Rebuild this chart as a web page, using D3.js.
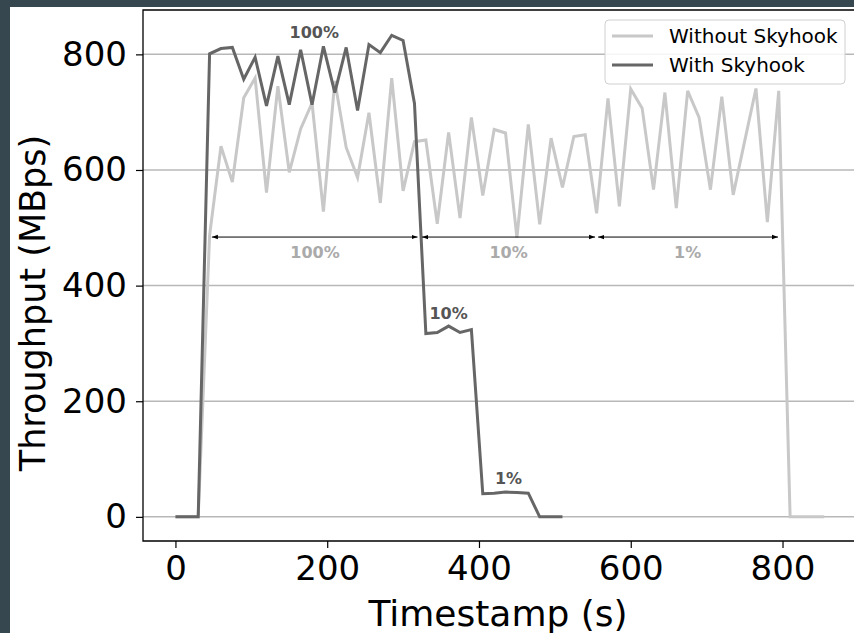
<!DOCTYPE html>
<html>
<head>
<meta charset="utf-8">
<script src="https://cdn.jsdelivr.net/npm/d3@7"></script>
<style>
  body { margin: 0; background: #37474f; }
  svg { display: block; }
  text { font-family: "DejaVu Sans", sans-serif; }
</style>
</head>
<body>
<svg id="chart" width="854" height="633"></svg>
<script>
// timestamps (s), one sample every 15 s
var withTimes = [0,15,30,45,60,75,90,105,120,135,150,165,180,195,210,225,240,255,270,285,300,315,330,345,360,375,390,405,420,435,450,465,480,495,510];
var withSkyhook = [0,0,0,801,810,812,757,795,711,797,713,808,713,814,734,812,703,817,803,833,824,715,317,319,330,319,324,40,41,43,42,41,0,0,0];

var withoutTimes = [0,15,30,45,60,75,90,105,120,135,150,165,180,195,210,225,240,255,270,285,300,315,330,345,360,375,390,405,420,435,450,465,480,495,510,525,540,555,570,585,600,615,630,645,660,675,690,705,720,735,750,765,780,795,810,825,840,855];
var withoutSkyhook = [0,0,0,487,641,579,725,759,561,745,596,671,716,528,754,639,587,699,543,759,564,649,652,507,665,517,691,556,670,664,483,679,506,655,570,658,661,525,724,537,740,707,566,734,534,737,691,566,727,557,649,741,510,737,0,0,0,0];

var seriesNames = ["Without Skyhook", "With Skyhook"];
var xTicks = [0,200,400,600,800];
var yTicks = [0,200,400,600,800];

// phase arrows (Without Skyhook) and their labels
var phaseStart = [48, 325, 557];
var phaseEnd = [319, 553, 794];
var phaseLabels = ["100%", "10%", "1%"];
var phaseLabelT = [184, 439, 675];
var phaseY = 484;
var phaseLabelY = 447;

// labels on the With Skyhook curve
var stepLabels = ["100%", "10%", "1%"];
var stepLabelT = [183, 360, 439];
var stepLabelV = [829, 343, 56];

var svg = d3.select("#chart");

svg.append("rect").attr("x", 10).attr("y", 7).attr("width", 844).attr("height", 626).attr("fill", "#fff");

var plotL = 143, plotT = 10, plotB = 541, plotR = 856.7;

var x = d3.scaleLinear().domain([-42.75, 897.75]).range([plotL, plotR]);
var y = d3.scaleLinear().domain([-41.75, 876.75]).range([plotB, plotT]);

// grid
svg.append("g").selectAll("line").data(yTicks).enter().append("line")
  .attr("x1", plotL).attr("x2", 854)
  .attr("y1", function(d){ return y(d); }).attr("y2", function(d){ return y(d); })
  .attr("stroke", "#b8b8b8").attr("stroke-width", 1.5);

var line = d3.line().x(function(d){ return x(d[0]); }).y(function(d){ return y(d[1]); });

svg.append("path")
  .datum(d3.zip(withoutTimes, withoutSkyhook))
  .attr("d", line).attr("fill", "none")
  .attr("stroke", "#c8c8c8").attr("stroke-width", 3).attr("stroke-linejoin", "miter");

svg.append("path")
  .datum(d3.zip(withTimes, withSkyhook))
  .attr("d", line).attr("fill", "none")
  .attr("stroke", "#666").attr("stroke-width", 3).attr("stroke-linejoin", "miter");

// axes
var xAxis = svg.append("g").attr("transform", "translate(0," + plotB + ")")
  .call(d3.axisBottom(x).tickValues(xTicks).tickSize(7).tickPadding(8).tickSizeOuter(0));
var yAxis = svg.append("g").attr("transform", "translate(" + plotL + ",0)")
  .call(d3.axisLeft(y).tickValues(yTicks).tickSize(7).tickPadding(9).tickSizeOuter(0));
[xAxis, yAxis].forEach(function(g){
  g.select(".domain").remove();
  g.selectAll("line").attr("stroke", "#000").attr("stroke-width", 1.2);
  g.selectAll("text").attr("font-size", 34).attr("font-family", "DejaVu Sans").attr("fill", "#000");
});

// frame
svg.append("path")
  .attr("d", "M" + plotR + "," + plotT + "H" + plotL + "V" + plotB + "H" + plotR)
  .attr("fill", "none").attr("stroke", "#000").attr("stroke-width", 1.3);

// axis labels
svg.append("text").attr("x", 498).attr("y", 626).attr("text-anchor", "middle")
  .attr("font-size", 36).text("Timestamp (s)");
svg.append("text").attr("transform", "translate(45,303) rotate(-90)").attr("text-anchor", "middle")
  .attr("font-size", 35).text("Throughput (MBps)");

// arrows
var defs = svg.append("defs");
defs.append("marker").attr("id", "head").attr("viewBox", "0 -3 6 6")
  .attr("refX", 6).attr("refY", 0).attr("markerWidth", 6).attr("markerHeight", 6)
  .attr("markerUnits", "userSpaceOnUse").attr("orient", "auto-start-reverse")
  .append("path").attr("d", "M0,-2.2L6,0L0,2.2Z").attr("fill", "#000");

svg.append("g").selectAll("line").data(phaseStart).enter().append("line")
  .attr("x1", function(d){ return x(d); })
  .attr("x2", function(d, i){ return x(phaseEnd[i]); })
  .attr("y1", y(phaseY)).attr("y2", y(phaseY))
  .attr("stroke", "#000").attr("stroke-width", 1)
  .attr("marker-start", "url(#head)").attr("marker-end", "url(#head)");

svg.append("g").selectAll("text").data(phaseLabels).enter().append("text")
  .attr("x", function(d, i){ return x(phaseLabelT[i]); })
  .attr("y", y(phaseLabelY))
  .attr("text-anchor", "middle").attr("font-size", 16).attr("font-weight", "bold")
  .attr("fill", "#aaa").text(function(d){ return d; });

svg.append("g").selectAll("text").data(stepLabels).enter().append("text")
  .attr("x", function(d, i){ return x(stepLabelT[i]); })
  .attr("y", function(d, i){ return y(stepLabelV[i]); })
  .attr("text-anchor", "middle").attr("font-size", 16).attr("font-weight", "bold")
  .attr("fill", "#555").text(function(d){ return d; });

// legend
var legend = svg.append("g");
legend.append("rect").attr("x", 605).attr("y", 20).attr("width", 240).attr("height", 64).attr("rx", 4)
  .attr("fill", "#fff").attr("fill-opacity", 0.85).attr("stroke", "#d0d0d0").attr("stroke-width", 1);
var legendColors = ["#c8c8c8", "#666"];
var legendY = [36, 65];
seriesNames.forEach(function(name, i){
  legend.append("line").attr("x1", 612).attr("x2", 653).attr("y1", legendY[i]).attr("y2", legendY[i])
    .attr("stroke", legendColors[i]).attr("stroke-width", 3);
  legend.append("text").attr("x", 669).attr("y", legendY[i] + 7).attr("font-size", 20)
    .attr("fill", "#000").text(name);
});
</script>
</body>
</html>
